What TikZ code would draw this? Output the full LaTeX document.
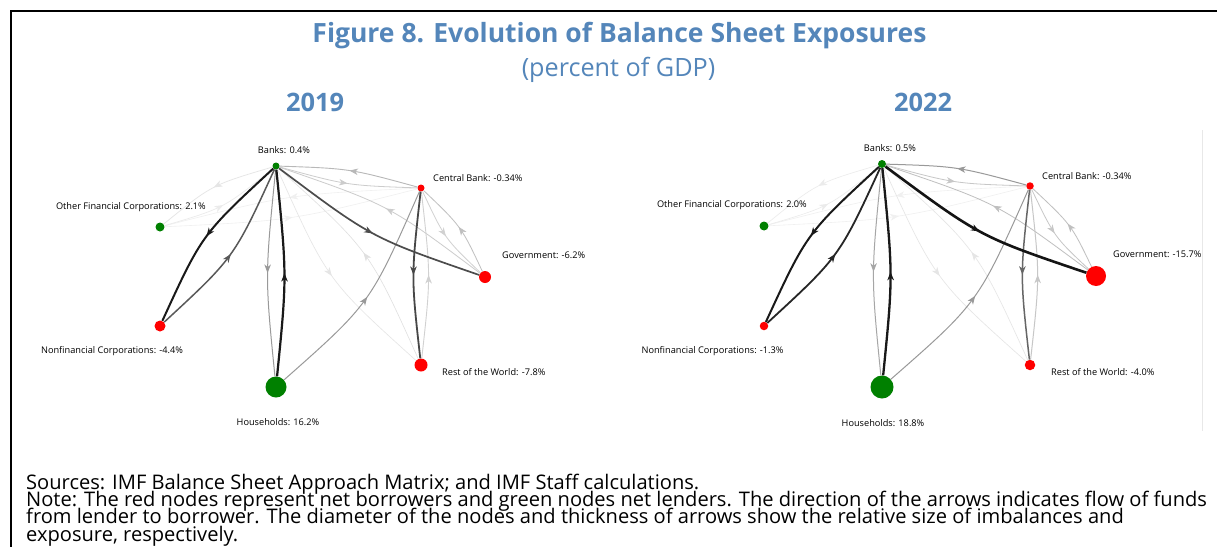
\documentclass[tikz,border=0pt]{standalone}
\usepackage{fontspec}
\setmainfont{Open Sans}
\usetikzlibrary{arrows.meta,decorations.markings,calc}
\definecolor{titleblue}{RGB}{84,134,186}
\definecolor{ngreen}{RGB}{0,128,0}
\definecolor{nred}{RGB}{255,0,0}
\newcommand{\fe}[5]{\draw[flow,draw=#3,line width=#4pt] (#1) .. controls ($(#1)!0.5!(#2)!#5!-90:(#2)$) .. (#2);}
\newcommand{\notefont}{\fontsize{20.1}{17.4}\selectfont\lineskiplimit -100pt\relax\lineskip 0pt\relax}
\begin{document}
\begin{tikzpicture}[x=1pt,y=-1pt,
  gnode/.style={circle,fill=ngreen,inner sep=0pt,minimum size=#1},
  rnode/.style={circle,fill=nred,inner sep=0pt,minimum size=#1},
  lab/.style={font=\fontsize{9.2}{11}\selectfont,inner sep=0pt},
  note/.style={font=\notefont,inner sep=0pt,anchor=base west,align=left},
  ttl/.style={text=titleblue,inner sep=0pt,anchor=base},
  flow/.style={postaction={decorate},decoration={markings,mark=at position 0.5 with {\arrow{Stealth[length=8.5pt,width=6.5pt,inset=2.5pt]}}}}]
\useasboundingbox (0,0) rectangle (1217,546);
\fill[white] (0,0) rectangle (1217,546);
% frame
\draw[line width=2.7pt] (1225,11) -- (11,11) -- (11,555);
\draw[black!9,line width=0.8pt] (1202,130) -- (1202,431);
% titles
\node[ttl,font=\fontsize{26.5}{30}\selectfont\bfseries] (title) at (619.5,42) {Figure 8. Evolution of Balance Sheet Exposures};
\node[ttl,font=\fontsize{25.2}{30}\selectfont] (sub) at (618.5,76) {(percent of GDP)};
\node[ttl,font=\fontsize{25.4}{30}\selectfont\bfseries] (y1) at (315,111) {2019};
\node[ttl,font=\fontsize{25.4}{30}\selectfont\bfseries] (y2) at (923,111) {2022};
% ---------- 2019 nodes
\node[gnode=7pt]  (Lbk)  at (276,166) {};
\node[rnode=7pt]  (Lcb)  at (421,188) {};
\node[rnode=12pt] (Lgov) at (485,277) {};
\node[rnode=13pt] (Lrow) at (421,365) {};
\node[gnode=21pt] (Lhh)  at (276,387) {};
\node[rnode=11pt] (Lnfc) at (160,326) {};
\node[gnode=9pt]  (Lofc) at (160,227) {};
% ---------- 2022 nodes
\node[gnode=8pt]   (Rbk)  at (882,164) {};
\node[rnode=7.5pt] (Rcb)  at (1030,186) {};
\node[rnode=20pt]  (Rgov) at (1096,276) {};
\node[rnode=10.5pt](Rrow) at (1030,365) {};
\node[gnode=23pt]  (Rhh)  at (882,387) {};
\node[rnode=8.5pt] (Rnfc) at (764,326) {};
\node[gnode=9pt]   (Rofc) at (764,226) {};
% ---------- 2019 edges
\fe{Lofc}{Lcb}{black!6}{0.6}{0.1}
\fe{Lcb}{Lofc}{black!6}{0.6}{0.1}
\fe{Lbk}{Lofc}{black!10}{0.7}{0.2}
\fe{Lofc}{Lbk}{black!8}{0.7}{0.2}
\fe{Lbk}{Lrow}{black!10}{0.6}{0.21}
\fe{Lrow}{Lbk}{black!12}{0.6}{0.21}
\fe{Lgov}{Lbk}{black!20}{0.8}{0.157}
\fe{Lbk}{Lcb}{black!20}{0.8}{0.117}
\fe{Lcb}{Lbk}{black!28}{0.9}{0.117}
\fe{Lrow}{Lcb}{black!18}{0.9}{0.112}
\fe{Lcb}{Lgov}{black!18}{0.8}{0.187}
\fe{Lgov}{Lcb}{black!25}{0.8}{0.187}
\fe{Lhh}{Lcb}{black!40}{1}{0.22}
\fe{Lbk}{Lhh}{black!40}{1}{0.1}
\fe{Lnfc}{Lbk}{black!65}{1.5}{0.2}
\fe{Lbk}{Lgov}{black!70}{1.7}{0.157}
\fe{Lcb}{Lrow}{black!72}{1.8}{0.112}
\fe{Lbk}{Lnfc}{black!90}{2}{0.2}
\fe{Lhh}{Lbk}{black!90}{2.2}{0.1}
% ---------- 2022 edges
\fe{Rofc}{Rcb}{black!6}{0.6}{0.1}
\fe{Rcb}{Rofc}{black!6}{0.6}{0.1}
\fe{Rbk}{Rofc}{black!8}{0.6}{0.2}
\fe{Rofc}{Rbk}{black!8}{0.6}{0.2}
\fe{Rbk}{Rrow}{black!10}{0.6}{0.21}
\fe{Rrow}{Rbk}{black!10}{0.6}{0.21}
\fe{Rgov}{Rbk}{black!25}{0.8}{0.157}
\fe{Rbk}{Rcb}{black!22}{0.8}{0.117}
\fe{Rcb}{Rbk}{black!40}{1}{0.117}
\fe{Rrow}{Rcb}{black!22}{1}{0.112}
\fe{Rcb}{Rgov}{black!22}{0.8}{0.187}
\fe{Rgov}{Rcb}{black!25}{0.8}{0.187}
\fe{Rhh}{Rcb}{black!40}{1}{0.22}
\fe{Rbk}{Rhh}{black!35}{1}{0.1}
\fe{Rcb}{Rrow}{black!60}{1.5}{0.112}
\fe{Rnfc}{Rbk}{black!85}{1.8}{0.2}
\fe{Rbk}{Rnfc}{black!90}{2}{0.2}
\fe{Rhh}{Rbk}{black!90}{2.3}{0.1}
\fe{Rbk}{Rgov}{black!92}{2.6}{0.157}
% ---------- labels 2019
\node[lab,anchor=base] (tLbk) at (284,153) {Banks: 0.4\%};
\node[lab,anchor=base west] (tLcb) at (433,181) {Central Bank: -0.34\%};
\node[lab,anchor=base east] (tLofc) at (206,209) {Other Financial Corporations: 2.1\%};
\node[lab,anchor=base west] (tLgov) at (502,258) {Government: -6.2\%};
\node[lab,anchor=base] (tLnfc) at (112,353) {Nonfinancial Corporations: -4.4\%};
\node[lab,anchor=base] (tLhh) at (278,425) {Households: 16.2\%};
\node[lab,anchor=base west] (tLrow) at (442,375) {Rest of the World: -7.8\%};
% ---------- labels 2022
\node[lab,anchor=base] (tRbk) at (890,151) {Banks: 0.5\%};
\node[lab,anchor=base west] (tRcb) at (1042,179) {Central Bank: -0.34\%};
\node[lab,anchor=base east] (tRofc) at (807,207) {Other Financial Corporations: 2.0\%};
\node[lab,anchor=base west] (tRgov) at (1113,257) {Government: -15.7\%};
\node[lab,anchor=base] (tRnfc) at (712.5,353) {Nonfinancial Corporations: -1.3\%};
\node[lab,anchor=base] (tRhh) at (883,426) {Households: 18.8\%};
\node[lab,anchor=base west] (tRrow) at (1051,375) {Rest of the World: -4.0\%};
% ---------- notes
\node[note] (notes) at (26,541.2) {Sources: IMF Balance Sheet Approach Matrix; and IMF Staff calculations.\\
Note: The red nodes represent net borrowers and green nodes net lenders. The direction of the arrows indicates flow of funds\\
from lender to borrower. The diameter of the nodes and thickness of arrows show the relative size of imbalances and\\
exposure, respectively.};
\end{tikzpicture}
\end{document}
